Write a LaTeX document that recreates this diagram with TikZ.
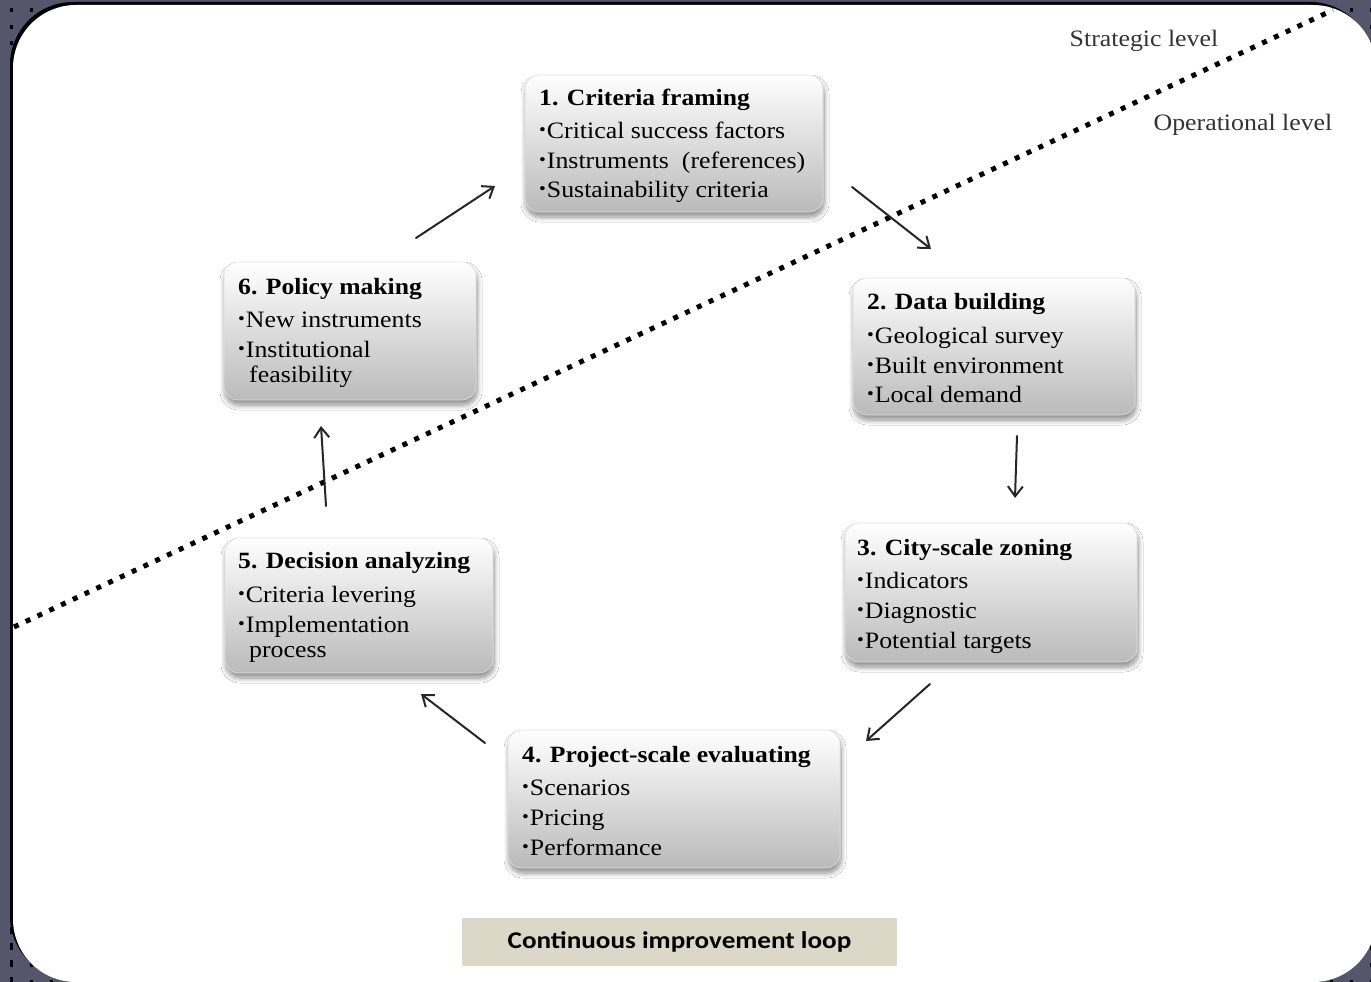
\documentclass[tikz,border=0pt]{standalone}
\usepackage{fontspec}
\setmainfont{Liberation Serif}[FakeStretch=1.1]
\newfontfamily\calib{Carlito}[FakeStretch=1.13]
\usetikzlibrary{arrows.meta,shadows.blur}
\definecolor{slate}{HTML}{55556B}
\definecolor{loopbg}{HTML}{DCD8C8}
\newcommand{\bul}{\raisebox{0.1em}{\scalebox{0.75}{\textbullet}}\hspace{0.04em}}
\tikzset{
  box/.style={rounded corners=14pt, top color=white, bottom color=black!27,
    draw=black!12, line width=0.6pt, inner sep=0pt,
    blur shadow={shadow xshift=1pt, shadow yshift=-5pt, shadow blur steps=10,
      shadow opacity=45, shadow blur radius=5pt}},
  ttl/.style={anchor=base west, inner sep=0pt, font=\fontsize{23.3}{30}\selectfont\bfseries},
  itm/.style={anchor=base west, inner sep=0pt, font=\fontsize{23.5}{30}\selectfont},
  lbl/.style={inner sep=0pt, text=black!80, font=\fontsize{23.5}{28}\selectfont},
  arr/.style={line width=2pt, draw=black!85, line cap=round,
    -{Straight Barb[length=10pt,width=15pt,line width=2pt]}},
  divider/.style={line width=5pt, dash pattern=on 5pt off 8pt, black}
}
\begin{document}
\begin{tikzpicture}[x=1pt,y=-1pt]
\useasboundingbox (0,0) rectangle (1371,982);
\clip (0,0) rectangle (1371,982);
% background frame
\fill[slate] (0,0) rectangle (1371,982);
\foreach \x in {11,31,...,1371} {
  \foreach \y in {10,26.7,...,95} { \fill[black] (\x-1.5,\y-2) rectangle ++(3,4); }
  \foreach \y in {915,931.7,...,990} { \fill[black] (\x-1.5,\y-2) rectangle ++(3,4); }
}
\foreach \y in {10,26.7,...,982} { \fill[black] (9.5,\y-2) rectangle ++(3,4); }
\fill[black, rounded corners=63pt] (10,2) rectangle (1373,979);
\fill[white, rounded corners=63pt] (13,5) rectangle (1376,982);

% level divider
\coordinate (ds) at (14,627);
\coordinate (de) at (1333,10);
\draw[divider] (ds) -- (de);
\node[lbl] (strat) at (1144,41) {Strategic level};
\node[lbl] (oper) at (1243,125) {Operational level};

% boxes
\node[box, minimum width=298pt, minimum height=137pt] (b1) at (674,143.5) {};
\node[box, minimum width=282pt, minimum height=137pt] (b2) at (994,346.5) {};
\node[box, minimum width=292pt, minimum height=139pt] (b3) at (991,592.5) {};
\node[box, minimum width=332pt, minimum height=138pt] (b4) at (674,799) {};
\node[box, minimum width=268pt, minimum height=135pt] (b5) at (359,605.5) {};
\node[box, minimum width=252pt, minimum height=138pt] (b6) at (350,331) {};

% box 1
\node[ttl] (t1) at (539,105) {1. Criteria framing};
\node[itm] (t1a) at (539,138) {\bul Critical success factors};
\node[itm] (t1b) at (539,168) {\bul Instruments~ (references)};
\node[itm] (t1c) at (539,197) {\bul Sustainability criteria};
% box 2
\node[ttl] (t2) at (867,309) {2. Data building};
\node[itm] (t2a) at (867,343) {\bul Geological survey};
\node[itm] (t2b) at (867,373) {\bul Built environment};
\node[itm] (t2c) at (867,402) {\bul Local demand};
% box 3
\node[ttl] (t3) at (857,555) {3. City-scale zoning};
\node[itm] (t3a) at (857,588) {\bul Indicators};
\node[itm] (t3b) at (857,618) {\bul Diagnostic};
\node[itm] (t3c) at (857,648) {\bul Potential targets};
% box 4
\node[ttl] (t4) at (522,762) {4. Project-scale evaluating};
\node[itm] (t4a) at (522,795) {\bul Scenarios};
\node[itm] (t4b) at (522,825) {\bul Pricing};
\node[itm] (t4c) at (522,855) {\bul Performance};
% box 5
\node[ttl] (t5) at (238,568) {5. Decision analyzing};
\node[itm] (t5a) at (238,602) {\bul Criteria levering};
\node[itm] (t5b) at (238,632) {\bul Implementation};
\node[itm] (t5c) at (249,657) {process};
% box 6
\node[ttl] (t6) at (238,294) {6. Policy making};
\node[itm] (t6a) at (238,327) {\bul New instruments};
\node[itm] (t6b) at (238,357) {\bul Institutional};
\node[itm] (t6c) at (249,382) {feasibility};

% arrows
\coordinate (a1s) at (416,238); \coordinate (a1e) at (495,186);
\coordinate (a2s) at (852,187); \coordinate (a2e) at (931,249);
\coordinate (a3s) at (1017,436); \coordinate (a3e) at (1015,498);
\coordinate (a4s) at (930,684); \coordinate (a4e) at (866,741);
\coordinate (a5s) at (485,743); \coordinate (a5e) at (421,694);
\coordinate (a6s) at (326,506); \coordinate (a6e) at (321,426);
\draw[arr] (a1s) -- (a1e);
\draw[arr] (a2s) -- (a2e);
\draw[arr] (a3s) -- (a3e);
\draw[arr] (a4s) -- (a4e);
\draw[arr] (a5s) -- (a5e);
\draw[arr] (a6s) -- (a6e);

% loop label
\node[fill=loopbg, minimum width=435pt, minimum height=48pt, inner sep=0pt,
  font=\calib\bfseries\fontsize{24}{28}\selectfont] (loop) at (679.5,942) {Continuous improvement loop};
\end{tikzpicture}
\end{document}
